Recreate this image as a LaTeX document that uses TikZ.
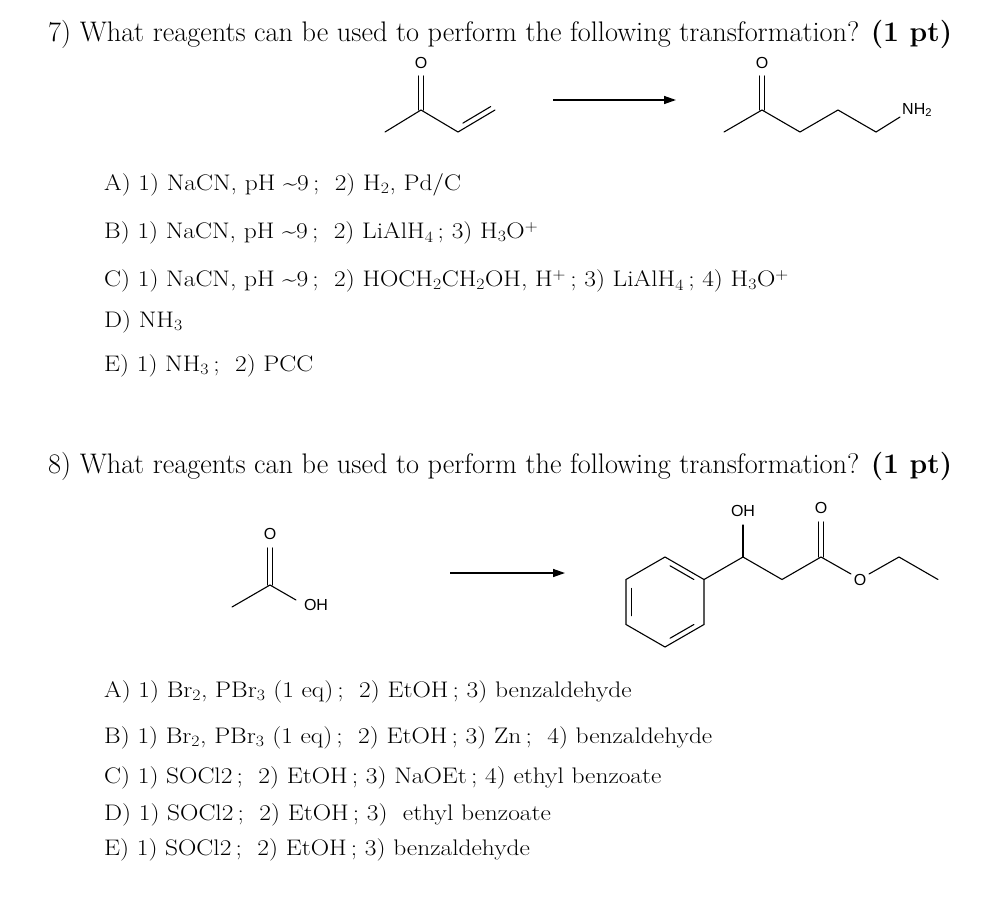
\documentclass[tikz,border=0pt]{standalone}
\usepackage{fontspec}
\usepackage{graphicx}
\setsansfont{Liberation Sans}
\usetikzlibrary{arrows.meta,calc}
\newcommand{\sbs}[1]{\textsubscript{#1}}
\newcommand{\sps}[1]{\textsuperscript{#1}}
\newcommand{\wide}[1]{\scalebox{1.13}[1]{#1}}
\begin{document}
\begin{tikzpicture}[x=1pt,y=-1pt,
  txt/.style={anchor=west,inner sep=0pt,font=\fontsize{23}{26}\selectfont},
  opt/.style={anchor=west,inner sep=0pt,font=\fontsize{22.5}{26}\selectfont},
  atom/.style={inner sep=0pt,font=\sffamily\fontsize{16}{17}\selectfont},
  bond/.style={line width=1.1pt,line cap=round},
  rxn/.style={line width=1.4pt,-{Triangle[length=12pt,width=8pt]}}]
\useasboundingbox[fill=white] (0,0) rectangle (1004,908);
% ---- Question 7
\node[txt] (q7) at (48,34) {\resizebox{904pt}{!}{7) What reagents can be used to perform the following transformation? \textbf{(1 pt)}}};
% reactant
\coordinate (a1) at (385,132); \coordinate (a2) at (421,110); \coordinate (a3) at (458,132); \coordinate (a4) at (495,110);
\coordinate (a2o) at (421,76);
\node[atom] (ao) at (421,63) {O};
\draw[bond] (a1) -- (a2) -- (a3) -- (a4);
\draw[bond] ([xshift=-2.2pt]a2) -- ([xshift=-2.2pt]a2o);
\draw[bond] ([xshift=2.2pt]a2) -- ([xshift=2.2pt]a2o);
\draw[bond] ($(a3)!0.2!(a4)+(-2.5,-4.5)$) -- ($(a3)!0.95!(a4)+(-2.5,-4.5)$);
% arrow
\coordinate (r1s) at (553,100); \coordinate (r1e) at (676,100);
\draw[rxn] (r1s) -- (r1e);
% product
\coordinate (b1) at (724,132); \coordinate (b2) at (762,110); \coordinate (b3) at (800,132);
\coordinate (b4) at (838,110); \coordinate (b5) at (876,132); \coordinate (b6) at (900,117);
\coordinate (b2o) at (762,76);
\node[atom] (bo) at (762,63) {O};
\node[atom,anchor=west] (bn) at (902,110) {NH\textsubscript{2}};
\draw[bond] (b1) -- (b2) -- (b3) -- (b4) -- (b5) -- (b6);
\draw[bond] ([xshift=-2.2pt]b2) -- ([xshift=-2.2pt]b2o);
\draw[bond] ([xshift=2.2pt]b2) -- ([xshift=2.2pt]b2o);
% options
\node[opt] (o7a) at (104,185) {\wide{A) 1) NaCN, pH \textasciitilde9\,; \ 2) H\sbs{2}, Pd/C}};
\node[opt] (o7b) at (104,233) {\wide{B) 1) NaCN, pH \textasciitilde9\,; \ 2) LiAlH\sbs{4}\,; 3) H\sbs{3}O\sps{+}}};
\node[opt] (o7c) at (104,281) {\wide{C) 1) NaCN, pH \textasciitilde9\,; \ 2) HOCH\sbs{2}CH\sbs{2}OH, H\sps{+}\,; 3) LiAlH\sbs{4}\,; 4) H\sbs{3}O\sps{+}}};
\node[opt] (o7d) at (104,322) {\wide{D) NH\sbs{3}}};
\node[opt] (o7e) at (104,366) {\wide{E) 1) NH\sbs{3}\,; \ 2) PCC}};
% ---- Question 8
\node[txt] (q8) at (48,466) {\resizebox{904pt}{!}{8) What reagents can be used to perform the following transformation? \textbf{(1 pt)}}};
% acetic acid
\coordinate (c1) at (232,607); \coordinate (c2) at (270,585); \coordinate (c2o) at (270,548); \coordinate (c3) at (296,600);
\node[atom] (co) at (270,534) {O};
\node[atom] (coh) at (316,605) {OH};
\draw[bond] (c1) -- (c2) -- (c3);
\draw[bond] ([xshift=-2.2pt]c2) -- ([xshift=-2.2pt]c2o);
\draw[bond] ([xshift=2.2pt]c2) -- ([xshift=2.2pt]c2o);
% arrow
\coordinate (r2s) at (450,573); \coordinate (r2e) at (565,573);
\draw[rxn] (r2s) -- (r2e);
% product: ring
\coordinate (rc) at (665,602);
\coordinate (h1) at (665,557); \coordinate (h2) at (704,579.5); \coordinate (h3) at (704,624.5);
\coordinate (h4) at (665,647); \coordinate (h5) at (626,624.5); \coordinate (h6) at (626,579.5);
\draw[bond] (h1) -- (h2) -- (h3) -- (h4) -- (h5) -- (h6) -- cycle;
\draw[bond] ($(h1)!0.15!(h2)!0.13!(rc)$) -- ($(h1)!0.85!(h2)!0.13!(rc)$);
\draw[bond] ($(h3)!0.15!(h4)!0.13!(rc)$) -- ($(h3)!0.85!(h4)!0.13!(rc)$);
\draw[bond] ($(h5)!0.15!(h6)!0.13!(rc)$) -- ($(h5)!0.85!(h6)!0.13!(rc)$);
\coordinate (p1) at (743,557); \coordinate (p2) at (782,579.5); \coordinate (p3) at (821,557);
\coordinate (p4) at (851,574); \coordinate (p5) at (869,574); \coordinate (p6) at (899,557); \coordinate (p7) at (938,579.5);
\coordinate (p1o) at (743,525); \coordinate (p3o) at (821,522);
\node[atom] (poh) at (743,511) {OH};
\node[atom] (po) at (821,508) {O};
\node[atom] (peo) at (860,580) {O};
\draw[bond] (h2) -- (p1) -- (p2) -- (p3) -- (p4);
\draw[bond] (p5) -- (p6) -- (p7);
\draw[bond] (p1) -- (p1o);
\draw[bond] ([xshift=-2.2pt]p3) -- ([xshift=-2.2pt]p3o);
\draw[bond] ([xshift=2.2pt]p3) -- ([xshift=2.2pt]p3o);
% options
\node[opt] (o8a) at (104,692) {\wide{A) 1) Br\sbs{2}, PBr\sbs{3} (1 eq)\,; \ 2) EtOH\,; 3) benzaldehyde}};
\node[opt] (o8b) at (104,738) {\wide{B) 1) Br\sbs{2}, PBr\sbs{3} (1 eq)\,; \ 2) EtOH\,; 3) Zn\,; \ 4) benzaldehyde}};
\node[opt] (o8c) at (104,778) {\wide{C) 1) SOCl2\,; \ 2) EtOH\,; 3) NaOEt\,; 4) ethyl benzoate}};
\node[opt] (o8d) at (104,815) {\wide{D) 1) SOCl2\,; \ 2) EtOH\,; 3) \ ethyl benzoate}};
\node[opt] (o8e) at (104,850) {\wide{E) 1) SOCl2\,; \ 2) EtOH\,; 3) benzaldehyde}};
\end{tikzpicture}
\end{document}
